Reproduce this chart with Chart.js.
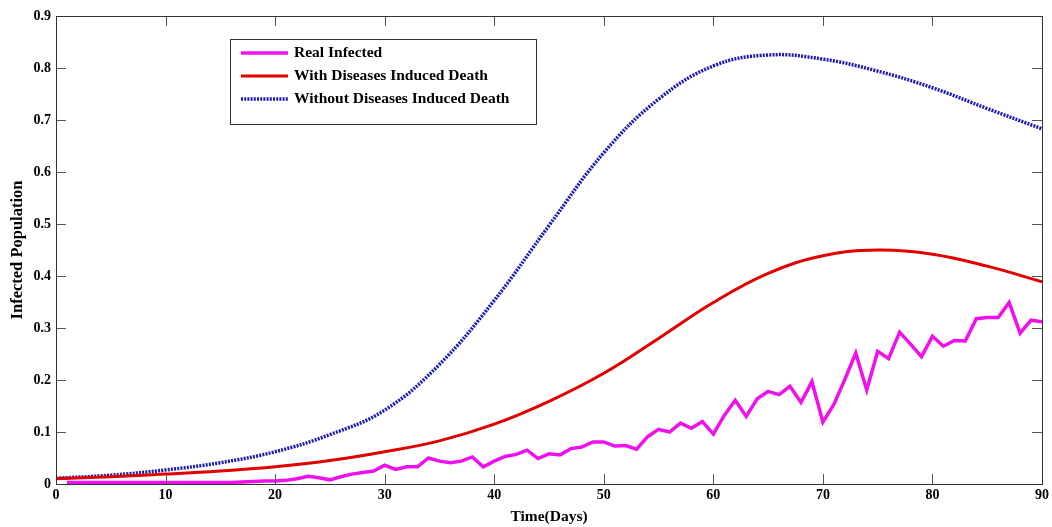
<!DOCTYPE html>
<html>
<head>
<meta charset="utf-8">
<title>Infected Population</title>
<script src="https://cdn.jsdelivr.net/npm/chart.js@4.4.1/dist/chart.umd.min.js"></script>
<style>
  html, body { margin: 0; padding: 0; background: #fff; }
  .chart-wrap { position: relative; width: 1052px; height: 527px; }
</style>
</head>
<body>
<div class="chart-wrap"><canvas id="infectedChart"></canvas></div>
<script>
// model output, sampled every 5 days
const modelDays = [0, 5, 10, 15, 20, 25, 30, 35, 40, 45, 50, 55, 60, 65, 70, 75, 80, 85, 90];
const withDeath = [0.010, 0.014, 0.019, 0.025, 0.033, 0.045, 0.062, 0.083, 0.115, 0.159,
  0.213, 0.280, 0.349, 0.405, 0.439, 0.450, 0.442, 0.419, 0.389];
const withoutDeath = [0.011, 0.017, 0.027, 0.041, 0.062, 0.095, 0.142, 0.230, 0.353, 0.497,
  0.637, 0.740, 0.804, 0.825, 0.817, 0.794, 0.762, 0.722, 0.683];

// reported cases, one value per day starting at day 1
const realInfected = [
  0.003, 0.003, 0.003, 0.003, 0.003, 0.003, 0.003, 0.003, 0.003, 0.003,
  0.003, 0.003, 0.003, 0.003, 0.003, 0.003, 0.004, 0.005, 0.006, 0.006,
  0.007, 0.010, 0.015, 0.012, 0.008, 0.014, 0.019, 0.022, 0.025, 0.036,
  0.028, 0.033, 0.033, 0.050, 0.044, 0.041, 0.044, 0.052, 0.033, 0.044,
  0.053, 0.057, 0.065, 0.049, 0.058, 0.056, 0.068, 0.071, 0.081, 0.081,
  0.073, 0.074, 0.067, 0.091, 0.105, 0.100, 0.117, 0.107, 0.120, 0.096,
  0.132, 0.161, 0.130, 0.164, 0.178, 0.172, 0.188, 0.157, 0.197, 0.119,
  0.153, 0.201, 0.252, 0.181, 0.255, 0.241, 0.292, 0.269, 0.245, 0.284,
  0.265, 0.276, 0.275, 0.318, 0.320, 0.320, 0.349, 0.290, 0.315, 0.312
];

const seriesLabels = ['Real Infected', 'With Diseases Induced Death', 'Without Diseases Induced Death'];
const xTicks = [0, 10, 20, 30, 40, 50, 60, 70, 80, 90];
const yTicks = [0, 0.1, 0.2, 0.3, 0.4, 0.5, 0.6, 0.7, 0.8, 0.9];

const FONT = "'Liberation Serif', 'Times New Roman', serif";

// MATLAB-like box with inward ticks on all four sides
const boxAxes = {
  id: 'boxAxes',
  afterDatasetsDraw(chart) {
    const { ctx, chartArea: a, scales } = chart;
    const len = 10;
    ctx.save();
    ctx.strokeStyle = '#555';
    ctx.lineWidth = 1;
    ctx.beginPath();
    xTicks.forEach((v) => {
      const x = Math.round(scales.x.getPixelForValue(v)) + 0.5;
      ctx.moveTo(x, a.bottom); ctx.lineTo(x, a.bottom - len);
      ctx.moveTo(x, a.top); ctx.lineTo(x, a.top + len);
    });
    yTicks.forEach((v) => {
      const y = Math.round(scales.y.getPixelForValue(v)) + 0.5;
      ctx.moveTo(a.left, y); ctx.lineTo(a.left + len, y);
      ctx.moveTo(a.right, y); ctx.lineTo(a.right - len, y);
    });
    ctx.stroke();
    ctx.strokeStyle = '#333';
    ctx.strokeRect(Math.round(a.left) + 0.5, Math.round(a.top) + 0.5,
      Math.round(a.right - a.left), Math.round(a.bottom - a.top));
    ctx.restore();
  }
};

// legend box in the upper left of the plot
const boxLegend = {
  id: 'boxLegend',
  afterDraw(chart) {
    const { ctx } = chart;
    const x0 = 230, y0 = 39, w = 306, h = 85;
    ctx.save();
    ctx.fillStyle = '#fff';
    ctx.fillRect(x0, y0, w, h);
    ctx.strokeStyle = '#333';
    ctx.lineWidth = 1;
    ctx.strokeRect(x0 + 0.5, y0 + 0.5, w, h);
    ctx.font = 'bold 15.5px ' + FONT;
    ctx.textBaseline = 'middle';
    chart.data.datasets.forEach((ds, i) => {
      const y = 53 + i * 23;
      ctx.strokeStyle = ds.borderColor;
      ctx.lineWidth = ds.borderWidth;
      ctx.setLineDash(ds.borderDash || []);
      ctx.beginPath();
      ctx.moveTo(241, y);
      ctx.lineTo(288, y);
      ctx.stroke();
      ctx.setLineDash([]);
      ctx.fillStyle = '#000';
      ctx.fillText(ds.label, 294, y);
    });
    ctx.restore();
  }
};

const canvas = document.getElementById('infectedChart');

new Chart(canvas, {
  type: 'line',
  data: {
    datasets: [
      {
        label: seriesLabels[0],
        data: realInfected.map((v, i) => ({ x: i + 1, y: v })),
        borderColor: '#ee11ee',
        borderWidth: 3.5,
        pointRadius: 0,
        tension: 0
      },
      {
        label: seriesLabels[1],
        data: withDeath.map((v, i) => ({ x: modelDays[i], y: v })),
        borderColor: '#e00000',
        borderWidth: 3,
        pointRadius: 0,
        tension: 0.4
      },
      {
        label: seriesLabels[2],
        data: withoutDeath.map((v, i) => ({ x: modelDays[i], y: v })),
        borderColor: '#1a1ab4',
        borderWidth: 3.5,
        borderDash: [2, 1.2],
        pointRadius: 0,
        tension: 0.4
      }
    ]
  },
  options: {
    responsive: true,
    maintainAspectRatio: false,
    animation: false,
    layout: { padding: { top: 16, right: 7, left: 0, bottom: 0 } },
    plugins: {
      legend: { display: false },
      tooltip: { enabled: false }
    },
    scales: {
      x: {
        type: 'linear',
        min: 0,
        max: 90,
        afterFit(scale) { scale.height = 43; },
        afterBuildTicks(scale) { scale.ticks = xTicks.map((v) => ({ value: v })); },
        grid: { display: false, drawTicks: false },
        border: { display: false },
        ticks: {
          padding: 3,
          color: '#000',
          font: { family: FONT, size: 14, weight: 'bold' }
        },
        title: {
          display: true,
          text: 'Time(Days)',
          color: '#000',
          padding: { top: 0, bottom: 1 },
          font: { family: FONT, size: 15.5, weight: 'bold' }
        }
      },
      y: {
        min: 0,
        max: 0.9,
        afterFit(scale) { scale.width = 56; },
        afterBuildTicks(scale) { scale.ticks = yTicks.map((v) => ({ value: v })); },
        grid: { display: false, drawTicks: false },
        border: { display: false },
        ticks: {
          padding: 5,
          color: '#000',
          font: { family: FONT, size: 14, weight: 'bold' },
          callback: (v) => String(+v.toFixed(1))
        },
        title: {
          display: true,
          text: 'Infected Population',
          color: '#000',
          padding: { top: 8, bottom: 0 },
          font: { family: FONT, size: 16.5, weight: 'bold' }
        }
      }
    }
  },
  plugins: [boxAxes, boxLegend]
});
</script>
</body>
</html>
